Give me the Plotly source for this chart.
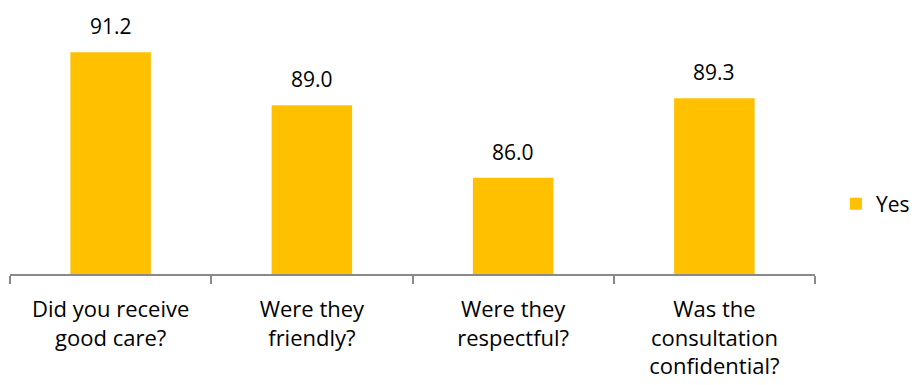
import plotly.graph_objects as go

# Survey responses: share answering "Yes" (%)
questions = [
    "Did you receive<br>good care?",
    "Were they<br>friendly?",
    "Were they<br>respectful?",
    "Was the<br>consultation<br>confidential?",
]
yes_values = [91.2, 89.0, 86.0, 89.3]

BAR_COLOR = "#FFC000"
AXIS_COLOR = "#898989"
FONT = "Open Sans"

fig = go.Figure()
fig.add_trace(go.Bar(
    x=questions,
    y=yes_values,
    name="Yes",
    marker=dict(color=BAR_COLOR, line=dict(width=0)),
))

# value labels above each bar
for q, v in zip(questions, yes_values):
    fig.add_annotation(
        x=q, y=v, text=f"{v:.1f}", showarrow=False,
        xanchor="center", yanchor="bottom", yshift=10,
        font=dict(family=FONT, size=21, color="#000000"),
    )

fig.update_layout(
    width=915, height=385,
    margin=dict(l=10, r=100, t=9, b=111, autoexpand=False),
    paper_bgcolor="white", plot_bgcolor="white",
    bargap=0.6,
    font=dict(family=FONT, size=21, color="#000000"),
    showlegend=True,
    legend=dict(
        x=1.026, xanchor="left", y=0.264, yanchor="middle",
        font=dict(family=FONT, size=21, color="#000000"),
        itemwidth=30, bgcolor="rgba(0,0,0,0)",
    ),
    xaxis=dict(
        showline=True, linecolor=AXIS_COLOR, linewidth=1.5,
        ticks="outside", tickson="boundaries", ticklen=8,
        tickcolor=AXIS_COLOR, tickwidth=1.5,
        tickfont=dict(family=FONT, size=22, color="#000000"),
        ticklabelstandoff=15,
        showgrid=False, zeroline=False,
    ),
    yaxis=dict(
        range=[82, 93], visible=False, showgrid=False, zeroline=False,
    ),
)

fig.write_html("out.html")
